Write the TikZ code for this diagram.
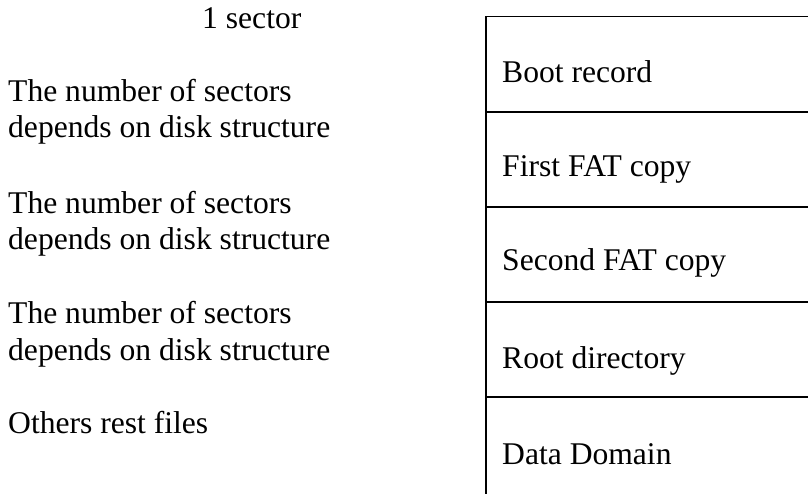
\documentclass[tikz,border=0pt]{standalone}
\usepackage{fontspec}
\setmainfont{Liberation Serif}
\begin{document}
\begin{tikzpicture}[x=1pt,y=-1pt,
  txt/.style={inner sep=0pt,anchor=base west,align=left,font=\fontsize{31.6}{36.5}\selectfont},
  rule/.style={line width=1.8pt}]
\useasboundingbox (0,0) rectangle (808,494);
% left column (two-line nodes anchored at last baseline)
\node[txt] (s1) at (202,29) {1 sector};
\node[txt] (s2) at (8,138) {The number of sectors\\depends on disk structure};
\node[txt] (s3) at (8,250) {The number of sectors\\depends on disk structure};
\node[txt] (s4) at (8,360) {The number of sectors\\depends on disk structure};
\node[txt] (s5) at (8,433) {Others rest files};
% right table
\coordinate (tl) at (486,16.5);
\coordinate (tr) at (808,16.5);
\coordinate (bl) at (486,494);
\draw[rule] (tr) -- (tl) -- (bl);
\foreach \yy/\nm in {112/a,207/b,302/c,397/d}{
  \coordinate (l\nm) at (486,\yy);
  \coordinate (r\nm) at (808,\yy);
  \draw[rule] (l\nm) -- (r\nm);
}
\node[txt] (c1) at (502,83) {Boot record};
\node[txt] (c2) at (502,177) {First FAT copy};
\node[txt] (c3) at (502,271) {Second FAT copy};
\node[txt] (c4) at (502,368) {Root directory};
\node[txt] (c5) at (502,464) {Data Domain};
\end{tikzpicture}
\end{document}
